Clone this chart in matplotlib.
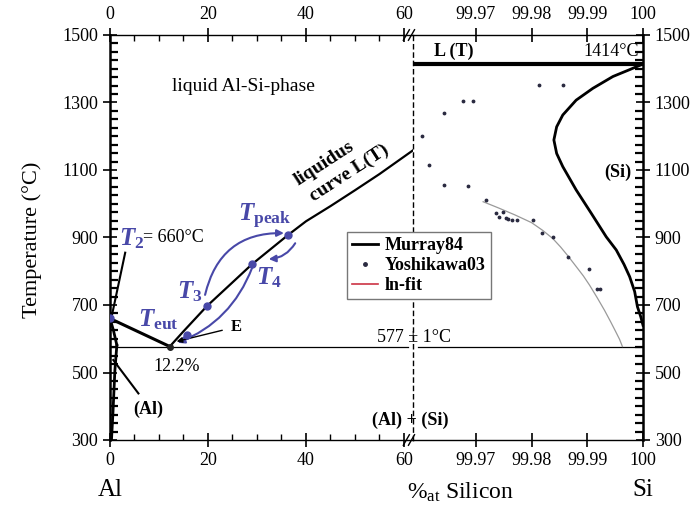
import matplotlib
matplotlib.use("Agg")
import matplotlib.pyplot as plt
from matplotlib.lines import Line2D
from matplotlib.patches import FancyArrowPatch
from matplotlib.ticker import MultipleLocator, FixedLocator

# ---------- data (x in at.% Si, T in degC) ----------

# Al-rich side (left panel)
al_liq_x = [0.0, 12.2]
al_liq_T = [660, 577]
si_liq_x = [12.2, 15.0, 19.8, 25.0, 29.0, 36.3, 40.0, 45.0, 50.0, 55.0, 62.0]
si_liq_T = [577, 622, 697, 767, 821, 907, 948, 993, 1040, 1088, 1160]
al_sol_x = [0.0, 0.7, 1.4]
al_sol_T = [660, 625, 581]
al_solv_x = [1.4, 1.0, 0.6, 0.3]
al_solv_T = [581, 507, 380, 300]
eut_x = 12.2
eut_T = 577
si_melt_T = 1414

# marked states T2, E, T3, T4, Tpeak
mark_x = [0.0, 15.7, 19.8, 29.0, 36.3]
mark_T = [660, 611, 697, 821, 907]

# Si-rich side (right panel)
si_solv_x = [100.0, 99.9974, 99.9946, 99.9910, 99.9880, 99.9856, 99.9845, 99.9840,
             99.9845, 99.9856, 99.9880, 99.9907, 99.9934, 99.9952, 99.9966, 99.9976,
             99.9985, 99.9990, 99.9996, 100.0]
si_solv_T = [1414, 1396, 1377, 1342, 1307, 1263, 1228, 1189,
             1149, 1110, 1041, 972, 902, 863, 820, 784,
             740, 695, 665, 640]

yosh_x = [99.9813, 99.9856, 99.9677, 99.9695, 99.9643, 99.9604, 99.9616, 99.9643,
          99.9685, 99.9719, 99.9737, 99.9742, 99.9748, 99.9754, 99.9758, 99.9764,
          99.9773, 99.9802, 99.9818, 99.9839, 99.9865, 99.9903, 99.9917, 99.9922]
yosh_T = [1352, 1352, 1304, 1304, 1268, 1202, 1115, 1056,
          1053, 1011, 972, 962, 975, 957, 955, 952,
          952, 952, 913, 901, 841, 806, 747, 747]

fit_x = [99.9713, 99.9740, 99.9770, 99.9800, 99.9820, 99.9838, 99.9852, 99.9865,
         99.9880, 99.9893, 99.9904, 99.9918, 99.9931, 99.9942, 99.9951, 99.9958,
         99.9963]
fit_T = [1006, 988, 967, 944, 921, 897, 872, 846,
         814, 786, 759, 721, 684, 650, 621, 598,
         577]

left_ticks = [0, 20, 40, 60]
right_ticks = [99.97, 99.98, 99.99, 100.0]
right_ticklabels = ["99.97", "99.98", "99.99", "100"]
T_ticks = [300, 500, 700, 900, 1100, 1300, 1500]

# ---------- style ----------
plt.rcParams["font.family"] = ["Liberation Serif", "DejaVu Serif"]
plt.rcParams["font.size"] = 13
plt.rcParams["mathtext.fontset"] = "custom"
plt.rcParams["mathtext.rm"] = "Liberation Serif"
plt.rcParams["mathtext.it"] = "Liberation Serif:italic"
plt.rcParams["mathtext.bf"] = "Liberation Serif:bold"
plt.rcParams["mathtext.bfit"] = "Liberation Serif:italic:bold"

BLUE = "#4848a8"
DOT = "#2a2a40"

fig = plt.figure(figsize=(6.94, 5.09), dpi=100)
ax1 = fig.add_axes([110/694, 69/509, 303/694, 405/509])
ax2 = fig.add_axes([413/694, 69/509, 230/694, 405/509])

ax1.set_xlim(0, 61.84)
ax2.set_xlim(99.95871, 100.0)
for ax in (ax1, ax2):
    ax.set_ylim(300, 1500)
    ax.set_facecolor("none")

# ---------- left panel ----------
ax1.plot(al_liq_x, al_liq_T, color="k", lw=2.2)
ax1.plot(si_liq_x, si_liq_T, color="k", lw=1.6)
ax1.plot(al_sol_x, al_sol_T, color="k", lw=2.0)
ax1.plot(al_solv_x, al_solv_T, color="k", lw=2.0)
ax1.axhline(eut_T, xmax=0.985, color="k", lw=0.9)
ax1.plot(mark_x, mark_T, "o", color=BLUE, ms=5, zorder=5)
ax1.plot([eut_x], [eut_T], "o", color="#222222", ms=4, zorder=5)

# pointer lines
ax1.plot([3.1, 0.4], [855, 670], color="k", lw=1.5)
ax1.plot([0.67, 5.8], [537, 438], color="k", lw=1.5)

# blue arrows between states
arrows = [((19.4, 730), (35.5, 913), -0.4),
          ((37.8, 883), (32.4, 836), -0.25),
          ((29.0, 810), (13.8, 588), -0.22)]
for (p0, p1, rad) in arrows:
    ax1.add_patch(FancyArrowPatch(p0, p1, connectionstyle=f"arc3,rad={rad}",
                                  arrowstyle="-|>", mutation_scale=10,
                                  color=BLUE, lw=1.5, shrinkA=0, shrinkB=0))
ax1.annotate("E", xy=(13.6, 592), xytext=(25.7, 635), fontsize=12, fontweight="bold",
             ha="center", va="center",
             arrowprops=dict(arrowstyle="-|>", color="k", lw=1.0,
                             mutation_scale=8, shrinkA=4, shrinkB=0))

ax1.text(27.3, 1346, "liquid Al-Si-phase", ha="center", va="center", fontsize=14)
ax1.text(43.8, 1118, "liquidus", rotation=33, ha="center", va="center",
         fontsize=14, fontweight="bold", rotation_mode="anchor")
ax1.text(48.9, 1092, "curve L(T)", rotation=33, ha="center", va="center",
         fontsize=14, fontweight="bold", rotation_mode="anchor")
ax1.text(31.6, 962, r"$\mathbfit{T}_{\mathbf{peak}}$", color=BLUE, fontsize=18,
         ha="center", va="center")
ax1.text(16.2, 740, r"$\mathbfit{T}_{\mathbf{3}}$", color=BLUE, fontsize=18,
         ha="center", va="center")
ax1.text(32.5, 782, r"$\mathbfit{T}_{\mathbf{4}}$", color=BLUE, fontsize=18,
         ha="center", va="center")
ax1.text(9.8, 656, r"$\mathbfit{T}_{\mathbf{eut}}$", color=BLUE, fontsize=18,
         ha="center", va="center")
ax1.text(1.8, 897, r"$\mathbfit{T}_{\mathbf{2}}$", color=BLUE, fontsize=18,
         ha="left", va="center")
ax1.text(6.7, 899, "= 660°C", fontsize=13, ha="left", va="center")
ax1.text(13.7, 519, "12.2%", fontsize=13, ha="center", va="center")
ax1.text(7.8, 392, "(Al)", fontsize=13, fontweight="bold", ha="center", va="center")
ax1.text(61.3, 359, "(Al) + (Si)", fontsize=13, fontweight="bold", ha="center", va="center")
ax1.text(62.0, 605, "577 ± 1°C", fontsize=13, ha="center", va="center")

# ---------- right panel ----------
ax2.plot(si_solv_x, si_solv_T, color="k", lw=2.0)
ax2.axhline(si_melt_T, color="k", lw=3.0)
ax2.axhline(eut_T, xmin=0.02, color="k", lw=0.9)
ax2.plot(fit_x, fit_T, color="#9a9a9a", lw=0.9)
ax2.plot(yosh_x, yosh_T, ".", color=DOT, ms=3.5)
ax2.text(99.96606, 1452, "L (T)", fontsize=13, fontweight="bold", ha="center", va="center")
ax2.text(99.9992, 1452, "1414°C", fontsize=13, ha="right", va="center")
ax2.text(99.99545, 1094, "(Si)", fontsize=13, fontweight="bold", ha="center", va="center")

# ---------- axes / ticks ----------
ax1.xaxis.set_major_locator(FixedLocator(left_ticks))
ax1.xaxis.set_minor_locator(MultipleLocator(5))
ax1.yaxis.set_major_locator(FixedLocator(T_ticks))
ax1.yaxis.set_minor_locator(MultipleLocator(25))
ax1.tick_params(axis="x", which="major", direction="inout", length=10, width=1.2,
                top=True, bottom=True, labeltop=True, labelbottom=True, labelsize=13)
ax1.tick_params(axis="x", which="minor", direction="in", length=4, width=1.0,
                top=True, bottom=True)
ax1.tick_params(axis="y", which="major", direction="inout", length=10, width=1.2,
                left=True, right=False, labelsize=13)
ax1.tick_params(axis="y", which="minor", direction="in", length=6, width=1.6,
                left=True, right=False)

ax2.xaxis.set_major_locator(FixedLocator(right_ticks))
ax2.set_xticklabels(right_ticklabels)
ax2.yaxis.set_major_locator(FixedLocator(T_ticks))
ax2.yaxis.set_minor_locator(MultipleLocator(25))
ax2.tick_params(axis="x", which="major", direction="inout", length=10, width=1.2,
                top=True, bottom=True, labeltop=True, labelbottom=True, labelsize=13)
ax2.tick_params(axis="x", which="minor", top=False, bottom=False)
ax2.tick_params(axis="y", which="major", direction="inout", length=10, width=1.2,
                left=False, right=True, labelleft=False, labelright=True, labelsize=13)
ax2.tick_params(axis="y", which="minor", direction="in", length=6, width=1.6,
                left=False, right=True)

ax1.spines["right"].set_visible(False)
ax1.spines["left"].set_linewidth(1.8)
ax2.spines["left"].set_linestyle((0, (3, 3)))
ax2.spines["left"].set_linewidth(1.0)
ax2.spines["right"].set_linewidth(1.8)
for ax in (ax1, ax2):
    ax.spines["top"].set_linewidth(1.0)
    ax.spines["bottom"].set_linewidth(1.0)

# axis break marks //
for xa in (0.978, 0.995):
    for ya in (0.0, 1.0):
        ax1.plot([xa - 0.010, xa + 0.010], [ya - 0.013, ya + 0.013], color="k", lw=1.0,
                 transform=ax1.transAxes, clip_on=False)

# ---------- labels ----------
fig.text(32/694, 1 - 240/509, "Temperature (°C)", rotation=90, fontsize=16,
         ha="center", va="center")
fig.text(110/694, 1 - 490/509, "Al", fontsize=18, ha="center", va="center")
fig.text(643/694, 1 - 490/509, "Si", fontsize=18, ha="center", va="center")
fig.text(460/694, 1 - 492/509, r"%$_{\mathrm{at}}$ Silicon", fontsize=17,
         ha="center", va="center")

handles = [Line2D([], [], color="k", lw=2, label="Murray84"),
           Line2D([], [], color=DOT, marker=".", ls="none", ms=5, label="Yoshikawa03"),
           Line2D([], [], color="#cc3344", lw=1.2, label="ln-fit")]
fig.legend(handles=handles, loc="upper left", bbox_to_anchor=(347/694, 1 - 232/509),
           prop=dict(family="Liberation Serif", weight="bold", size=13),
           frameon=True, fancybox=False, edgecolor="#777777", framealpha=1,
           borderpad=0.3, handlelength=1.4, handletextpad=0.4, labelspacing=0.15,
           borderaxespad=0)

fig.savefig("out.png", dpi=100)
